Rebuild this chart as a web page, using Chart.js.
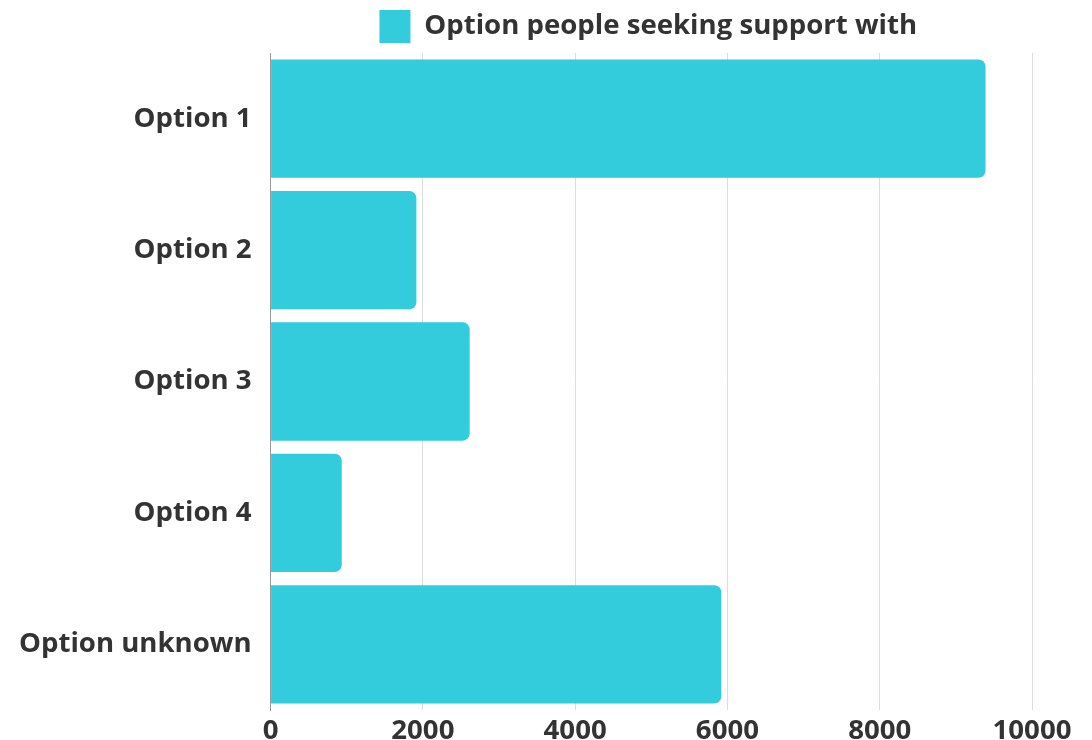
<!DOCTYPE html>
<html>
<head>
<meta charset="utf-8">
<script src="https://cdn.jsdelivr.net/npm/chart.js@4/dist/chart.umd.min.js"></script>
<style>
  html, body { margin: 0; padding: 0; background: #fff; }
  #wrap { width: 1092px; height: 740px; }
</style>
</head>
<body>
<div id="wrap"><canvas id="support-chart"></canvas></div>
<script>
const categories = ['Option 1', 'Option 2', 'Option 3', 'Option 4', 'Option unknown'];
const supportCounts = [9390, 1915, 2615, 935, 5920];
const seriesLabel = 'Option people seeking support with';

const barColor = '#33ccdd';
const textColor = '#333333';

// keep the legend centred over the plot instead of the whole canvas
const centerLegend = {
    id: 'centerLegend',
    afterLayout(chart) {
        const legend = chart.legend;
        if (!legend) return;
        const mid = (chart.chartArea.left + chart.chartArea.right) / 2 - 3;
        const half = legend.width / 2;
        legend.left = mid - half;
        legend.right = mid + half;
    }
};

Chart.defaults.font.family = '"Open Sans", sans-serif';
Chart.defaults.font.weight = 'bold';
Chart.defaults.font.size = 27.6;
Chart.defaults.color = textColor;

const ctx = document.getElementById('support-chart').getContext('2d');
const supportChart = new Chart(ctx, {
    type: 'bar',
    data: {
        labels: categories,
        datasets: [
            {
                label: seriesLabel,
                data: supportCounts,
                backgroundColor: barColor,
                borderRadius: 7,
                borderSkipped: 'start',
                barPercentage: 0.9,
                categoryPercentage: 1
            }
        ]
    },
    options: {
        indexAxis: 'y',
        responsive: true,
        maintainAspectRatio: false,
        animation: false,
        layout: {
            padding: { left: 8, right: 60, top: 0, bottom: 0 }
        },
        plugins: {
            legend: {
                position: 'top',
                labels: {
                    boxWidth: 31,
                    boxHeight: 33,
                    padding: 10,
                    font: { size: 27.6, weight: 'bold' }
                }
            },
            tooltip: { enabled: false }
        },
        scales: {
            x: {
                min: 0,
                max: 10000,
                ticks: {
                    stepSize: 2000,
                    padding: 7,
                    font: { lineHeight: 1 },
                    callback: value => String(value)
                },
                grid: { color: '#dddddd', lineWidth: 1, drawTicks: false },
                border: { display: false },
                afterFit(scale) {
                    scale.height = 30;
                }
            },
            y: {
                ticks: { padding: 11 },
                grid: { display: false },
                border: { display: true, color: '#999999', width: 1 }
            }
        }
    },
    plugins: [centerLegend]
});
</script>
</body>
</html>
